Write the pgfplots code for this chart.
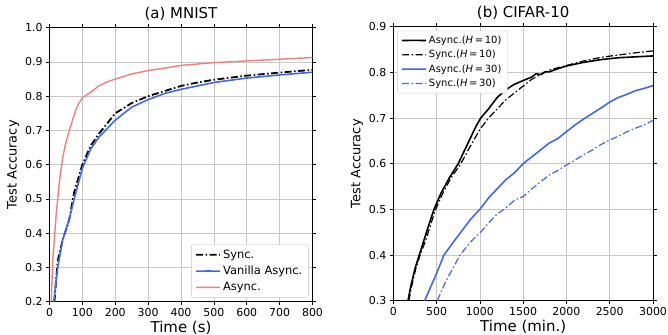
\documentclass[border=0pt]{standalone}
\usepackage{fontspec}
\setmainfont{DejaVu Sans}
\usepackage{pgfplots}
\pgfplotsset{compat=1.18}
\definecolor{myblue}{RGB}{65,105,225}
\definecolor{myred}{RGB}{240,128,128}
\definecolor{gridgray}{RGB}{200,200,200}
\begin{document}
\begin{tikzpicture}
\useasboundingbox (0,0) rectangle (668bp,335bp);
\pgfplotsset{
  myaxis/.style={
    scale only axis, anchor=south west,
    grid=major, grid style={gridgray, line width=0.7bp},
    tick align=outside, major tick length=3.5bp,
    tick style={black, line width=0.7bp},
    axis line style={line width=0.8bp},
    tick label style={font=\fontsize{11}{13}\selectfont},
    xlabel style={font=\fontsize{15}{17}\selectfont, yshift=3bp},
    ylabel style={font=\fontsize{13}{15}\selectfont, yshift=-1bp},
    title style={font=\fontsize{15}{17}\selectfont, yshift=-2bp},
    /pgf/number format/assume math mode=true,
    /pgf/number format/1000 sep={},
    scaled ticks=false,
    yticklabel style={/pgf/number format/fixed, /pgf/number format/fixed zerofill, /pgf/number format/precision=1},
    legend cell align=left,
    legend image code/.code={\draw[##1] (0bp,0bp) -- (12bp,0.15bp) -- (24bp,0bp);},
    legend style={draw=gridgray, rounded corners=2bp, fill=white, inner xsep=4bp, inner ysep=3bp},
  },
  dashdot/.style={dash pattern=on 7bp off 2.5bp on 1.5bp off 2.5bp},
}
\begin{axis}[myaxis, at={(49.5bp,33.3bp)}, width=263bp, height=274bp,
  xmin=0, xmax=800, ymin=0.2, ymax=1.0,
  xtick={0,100,...,800}, ytick={0.2,0.3,...,1.0},
  title={(a) MNIST}, xlabel={Time (s)}, ylabel={Test Accuracy},
  legend pos=south east,
  legend style={at={(0.985,0.015)}, font=\fontsize{11.5}{13}\selectfont, row sep=2.3bp},
]
\addplot[black, line width=1.8bp, dashdot] coordinates {
(15,0.2) (25,0.32) (40,0.38) (60,0.44) (75,0.52) (100,0.6) (125,0.655) (150,0.69) (175,0.72) (200,0.75) (250,0.78) (300,0.80) (350,0.815) (400,0.83) (450,0.84) (500,0.848) (600,0.86) (700,0.869) (800,0.877)};
\addlegendentry{Sync.}
\addplot[myblue, line width=1.6bp] coordinates {
(13,0.2) (25,0.3) (40,0.38) (60,0.44) (75,0.5) (100,0.59) (125,0.645) (150,0.68) (175,0.705) (200,0.73) (250,0.768) (300,0.79) (350,0.808) (400,0.82) (450,0.83) (500,0.84) (600,0.853) (700,0.862) (800,0.87)};
\addlegendentry{Vanilla Async.}
\addplot[myred, line width=1.4bp] coordinates {
(5,0.2) (10,0.32) (20,0.45) (30,0.55) (40,0.62) (50,0.665) (60,0.70) (70,0.73) (80,0.76) (90,0.78) (100,0.795) (115,0.805) (130,0.815) (150,0.83) (175,0.842) (200,0.85) (250,0.865) (300,0.875) (350,0.882) (400,0.89) (500,0.898) (600,0.903) (700,0.908) (800,0.913)};
\addlegendentry{Async.}
\end{axis}

\begin{axis}[myaxis, at={(393.3bp,34.3bp)}, width=259.7bp, height=274bp,
  xmin=0, xmax=3000, ymin=0.3, ymax=0.9,
  xtick={0,500,...,3000}, ytick={0.3,0.4,...,0.9},
  title={(b) CIFAR-10}, xlabel={Time (min.)}, ylabel={Test Accuracy},
  legend pos=north west,
  legend style={at={(0.015,0.985)}, font=\fontsize{10}{11}\selectfont, row sep=1.3bp},
]
\addplot[black, line width=1.6bp] coordinates {
(170,0.30) (200,0.33) (250,0.37) (300,0.40) (350,0.43) (400,0.46) (470,0.50) (550,0.535) (650,0.57) (750,0.60) (850,0.64) (950,0.68) (1010,0.70) (1100,0.72) (1200,0.745) (1300,0.762) (1400,0.774) (1500,0.782) (1600,0.79) (1650,0.797) (1700,0.795) (1750,0.801) (1800,0.801) (1900,0.808) (2000,0.814) (2200,0.822) (2400,0.828) (2600,0.832) (2800,0.834) (3000,0.836)};
\addlegendentry{Async.(\textit{H}\,=\,10)}
\addplot[black, line width=1.2bp, dashdot] coordinates {
(180,0.30) (210,0.33) (260,0.37) (310,0.40) (370,0.43) (420,0.46) (490,0.50) (570,0.535) (670,0.57) (780,0.60) (880,0.635) (1000,0.675) (1100,0.70) (1200,0.72) (1300,0.74) (1400,0.755) (1500,0.77) (1600,0.785) (1700,0.795) (1800,0.805) (1900,0.81) (2000,0.815) (2200,0.825) (2400,0.833) (2600,0.838) (2800,0.843) (3000,0.847)};
\addlegendentry{Sync.(\textit{H}\,=\,10)}
\addplot[myblue, line width=1.6bp] coordinates {
(362,0.30) (420,0.325) (500,0.36) (585,0.40) (700,0.43) (800,0.455) (900,0.48) (1000,0.50) (1100,0.525) (1200,0.545) (1300,0.565) (1400,0.58) (1500,0.60) (1600,0.615) (1700,0.63) (1800,0.645) (1900,0.655) (2000,0.67) (2100,0.685) (2200,0.698) (2300,0.71) (2400,0.722) (2500,0.735) (2600,0.745) (2700,0.752) (2800,0.76) (2900,0.765) (3000,0.771)};
\addlegendentry{Async.(\textit{H}\,=\,30)}
\addplot[myblue, line width=1.2bp, dashdot] coordinates {
(508,0.30) (600,0.34) (700,0.375) (770,0.40) (900,0.43) (1009,0.45) (1100,0.47) (1200,0.49) (1280,0.50) (1400,0.52) (1500,0.528) (1600,0.545) (1700,0.56) (1800,0.575) (1900,0.585) (2000,0.597) (2100,0.608) (2200,0.62) (2300,0.63) (2400,0.642) (2500,0.652) (2600,0.66) (2700,0.67) (2800,0.678) (2900,0.685) (3000,0.695)};
\addlegendentry{Sync.(\textit{H}\,=\,30)}
\end{axis}
\end{tikzpicture}
\end{document}
